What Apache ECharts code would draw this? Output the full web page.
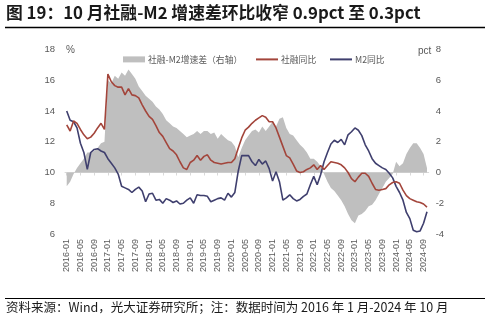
<!DOCTYPE html>
<html>
<head>
<meta charset="utf-8">
<script src="https://cdn.jsdelivr.net/npm/echarts@6/dist/echarts.min.js"></script>
<style>
html,body{margin:0;padding:0;background:#fff;}
#c{width:489px;height:327px;}
</style>
</head>
<body>
<div id="c"></div>
<script>
// Months 2016-01 .. 2024-10
var categories = [];
for (var y = 2016; y <= 2024; y++) {
  for (var m = 1; m <= 12; m++) {
    if (y === 2024 && m > 10) break;
    categories.push(y + '-' + (m < 10 ? '0' + m : '' + m));
  }
}

// 社融同比 (%)
var sfYoY = [
  13.1,12.7,13.35,13.2,12.8,12.45,12.2,12.3,12.55,12.9,13.2,12.8,
  16.4,15.9,15.65,15.55,15.55,15.05,15.45,15.05,15.0,14.85,14.4,14.0,
  13.65,13.45,13.05,12.6,12.35,11.95,11.55,11.4,11.15,10.7,10.3,10.2,
  10.65,10.8,11.1,10.8,11.05,11.15,10.8,10.65,10.6,10.55,10.6,10.65,
  10.65,10.9,11.6,12.25,12.75,12.95,13.2,13.4,13.55,13.7,13.6,13.3,
  13.3,12.9,12.3,11.7,11.1,10.95,10.55,10.1,10.0,10.05,10.2,10.3,
  10.5,10.2,10.45,10.2,10.45,10.7,10.65,10.6,10.5,10.3,10.0,9.6,
  9.4,9.7,9.95,9.95,9.75,9.3,8.9,8.85,8.9,8.95,9.2,9.35,
  9.4,9.3,8.85,8.5,8.3,8.2,8.1,8.05,7.95,7.75
];

// M2同比 (%)
var m2YoY = [
  14.0,13.4,13.3,12.9,11.9,11.3,10.2,11.3,11.5,11.55,11.4,11.3,
  10.9,10.6,10.3,9.9,9.1,9.0,8.9,8.7,8.9,9.05,8.8,8.1,
  8.6,8.65,8.2,8.25,8.0,8.3,8.2,8.05,8.15,7.95,8.0,8.2,
  8.35,8.0,8.55,8.5,8.5,8.45,8.1,8.2,8.3,8.35,8.2,8.65,
  8.4,8.7,10.1,11.1,11.1,11.1,10.7,10.45,10.85,10.55,10.75,10.25,
  9.45,10.05,9.4,8.2,8.35,8.55,8.3,8.15,8.25,8.45,8.6,9.2,
  9.75,9.2,9.85,10.7,11.3,11.85,12.1,11.95,12.15,11.8,12.45,12.65,
  12.9,12.75,12.4,11.8,11.4,10.9,10.6,10.45,10.3,10.2,9.95,9.65,
  9.1,8.7,8.2,7.4,7.0,6.25,6.15,6.2,6.7,7.45
];

// 社融-M2增速差 (pct, right axis)
var gapPct = [
  -0.9,-0.6,-0.1,0.3,0.6,0.9,1.3,1.3,1.4,1.6,1.9,2.0,
  6.0,5.8,6.3,6.1,6.5,6.3,6.7,6.4,6.1,5.6,5.3,5.0,
  4.8,4.6,4.3,4.1,3.8,3.4,3.2,3.0,2.9,2.7,2.5,2.3,
  2.4,2.5,2.7,2.5,2.7,2.7,2.5,2.6,2.2,2.5,2.3,2.1,
  2.0,1.7,1.0,1.6,2.1,2.4,2.7,2.8,2.6,3.0,2.7,3.0,
  3.3,3.0,3.5,3.6,2.9,2.5,2.4,2.1,1.8,1.6,1.3,0.9,
  0.9,0.7,0.4,-0.1,-0.6,-1.0,-1.2,-1.5,-1.8,-2.2,-2.7,-3.1,
  -3.3,-2.8,-2.7,-2.5,-2.2,-2.1,-1.8,-1.4,-1.0,-0.6,-0.35,-0.1,
  0.7,0.4,0.6,1.2,1.6,1.9,1.9,1.6,1.2,0.3
];

var seriesNames = ['社融-M2增速差（右轴）', '社融同比', 'M2同比'];
var titleText = '图 19：10 月社融-M2 增速差环比收窄 0.9pct 至 0.3pct';
var sourceText = '资料来源：Wind，光大证券研究所；注：数据时间为 2016 年 1 月-2024 年 10 月';

var chart = echarts.init(document.getElementById('c'), null, {renderer: 'canvas'});
var cjk = '"Noto Sans CJK SC", "Noto Sans", sans-serif';
var num = '"Liberation Sans", Arial, sans-serif';

var legendBase = {
  top: 50, itemWidth: 22, itemHeight: 6, itemGap: 0,
  textStyle: {fontSize: 8.8, color: '#595959', fontFamily: cjk, padding: [0, 0, 0, -2]}
};
function mkLegend(left, item) {
  var o = {};
  for (var k in legendBase) o[k] = legendBase[k];
  o.left = left;
  o.data = [item];
  return o;
}

chart.setOption({
  animation: false,
  backgroundColor: '#ffffff',
  grid: {left: 65, right: 60.3, top: 49.5, bottom: 93, containLabel: false},
  legend: [
    mkLegend(118, {name: seriesNames[0], icon: 'rect'}),
    mkLegend(250, {name: seriesNames[1], itemStyle: {opacity: 0}}),
    mkLegend(324, {name: seriesNames[2], itemStyle: {opacity: 0}})
  ],
  xAxis: {
    type: 'category',
    data: categories,
    boundaryGap: true,
    axisLine: {lineStyle: {color: '#d9d9d9', width: 1}},
    axisTick: {show: true, interval: 3, alignWithLabel: true, length: 3, lineStyle: {color: '#d9d9d9'}},
    axisLabel: {interval: 3, rotate: 90, fontSize: 9, color: '#595959', margin: 5, fontFamily: num}
  },
  yAxis: [
    {
      type: 'value', min: 6, max: 18, interval: 2,
      axisLine: {show: false}, axisTick: {show: false}, splitLine: {show: false},
      axisLabel: {fontSize: 9.5, color: '#595959', margin: 10, fontFamily: num}
    },
    {
      type: 'value', min: -4, max: 8, interval: 2,
      axisLine: {show: false}, axisTick: {show: false}, splitLine: {show: false},
      axisLabel: {fontSize: 9.5, color: '#595959', margin: 7, fontFamily: num}
    }
  ],
  series: [
    {
      name: seriesNames[0], type: 'line', yAxisIndex: 1, data: gapPct,
      symbol: 'none', lineStyle: {width: 0, color: '#bfbfbf'},
      itemStyle: {color: '#bfbfbf'},
      areaStyle: {color: '#bfbfbf', opacity: 1}, z: 1
    },
    {
      name: seriesNames[1], type: 'line', yAxisIndex: 0, data: sfYoY,
      symbol: 'none', lineStyle: {width: 1.6, color: '#a3453b'},
      itemStyle: {color: '#a3453b'}, z: 3
    },
    {
      name: seriesNames[2], type: 'line', yAxisIndex: 0, data: m2YoY,
      symbol: 'none', lineStyle: {width: 1.6, color: '#3f3f6e'},
      itemStyle: {color: '#3f3f6e'}, z: 2
    }
  ],
  graphic: [
    {type: 'text', left: 6, top: 4, style: {text: titleText, font: 'bold 16.8px ' + cjk, fill: '#1a1a1a'}},
    {type: 'line', shape: {x1: 5, y1: 27.5, x2: 485, y2: 27.5}, style: {stroke: '#000', lineWidth: 1.3}},
    {type: 'text', left: 66, top: 45, style: {text: '%', font: '10px ' + num, fill: '#595959'}},
    {type: 'text', left: 418, top: 46, style: {text: 'pct', font: '10px ' + num, fill: '#595959'}},
    {type: 'line', shape: {x1: 5, y1: 298.5, x2: 485, y2: 298.5}, style: {stroke: '#000', lineWidth: 1}},
    {type: 'text', left: 6, top: 301, style: {text: sourceText, font: '12.5px ' + cjk, fill: '#1a1a1a'}}
  ]
});
</script>
</body>
</html>
